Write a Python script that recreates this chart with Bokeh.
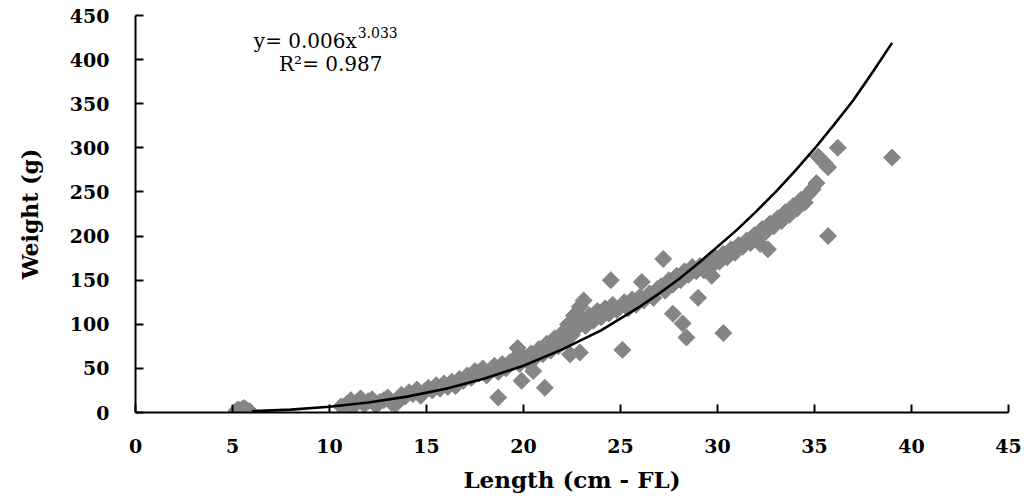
from bokeh.plotting import figure
from bokeh.models import Range1d, Label, FixedTicker
from bokeh.embed import file_html
from bokeh.resources import INLINE

# ---- data ----
length_cm = [
    5.2, 5.3, 5.4, 5.5, 5.5, 5.6, 5.7, 5.8, 5.9, 5.6,
    10.6, 10.9, 11.1, 11.2, 11.4, 11.6, 11.8, 12.0, 12.2, 12.4, 12.6, 12.8, 13.0, 13.2, 13.4, 13.5,
    13.7, 13.9, 14.1, 14.3, 14.5, 14.7, 14.9, 15.1, 15.3, 15.5, 15.7, 15.9, 16.1, 16.3, 16.5, 16.7, 16.9,
    17.1, 17.3, 17.5, 17.7, 17.9, 18.1, 18.3, 18.5, 18.7, 18.9, 19.1, 19.3,
    19.5, 19.7, 19.8, 20.0, 20.2, 20.4, 20.6, 20.8, 21.0, 21.2, 21.4,
    21.6, 21.8, 22.0, 22.2, 22.3, 22.5, 22.6, 22.7, 22.9, 23.0, 23.1, 23.2,
    23.4, 23.6, 23.8, 24.0, 24.2, 24.4, 24.6, 24.8, 25.0, 25.2, 25.4, 25.6, 25.8, 26.0, 26.2, 26.5, 26.7, 26.9,
    27.1, 27.3, 27.5, 27.7, 27.9, 28.1, 28.3, 28.5, 28.7, 28.9,
    29.1, 29.3, 29.5, 29.7, 29.9, 30.1, 30.3, 30.5, 30.7, 30.9, 31.1,
    31.3, 31.5, 31.7, 31.9, 32.1, 32.3, 32.5, 32.7, 32.9, 33.1, 33.3, 33.5, 33.7, 33.9, 34.1, 34.3, 34.5, 34.7, 34.9, 35.1,
    18.7, 19.9, 21.1, 20.5, 22.4, 22.9, 25.1, 24.5, 26.1, 27.2, 29.0, 27.7, 28.2, 28.4, 30.3, 29.7,
    35.7, 32.6, 32.2, 35.2, 35.5, 35.7, 36.2, 39.0,
]
weight_g = [
    2.0, 3.5, 1.0, 4.0, 2.5, 1.5, 3.0, 2.0, 1.2, 5.0,
    7, 10, 14, 6, 12, 16, 9, 13, 15, 8, 12, 14, 17, 11, 9, 14,
    20, 18, 23, 21, 26, 19, 24, 28, 25, 31, 27, 33, 29, 35, 30, 38, 36,
    42, 39, 47, 44, 50, 42, 48, 53, 46, 55, 50, 57,
    60, 73, 55, 63, 58, 67, 62, 72, 66, 78, 70,
    84, 75, 90, 82, 100, 88, 110, 95, 120, 105, 127, 98,
    110, 104, 115, 108, 118, 112, 122, 116, 120, 125, 118, 128, 122, 131, 127, 135, 130, 140,
    143, 138, 150, 145, 155, 150, 160, 156, 165, 160,
    166, 161, 170, 166, 175, 171, 180, 176, 185, 181, 190,
    188, 195, 192, 201, 198, 208, 205, 214, 211, 220, 217, 227, 224, 234, 231, 241, 238, 248, 253, 260,
    17, 36, 28, 47, 66, 68, 71, 150, 148, 174, 130, 112, 101, 85, 90, 155,
    200, 185, 191, 290, 283, 278, 300, 289,
]
# fitted power curve (y = 0.006x^3.033)
curve_len = [6, 8, 10, 12, 14, 16, 18, 20, 22, 24, 26, 27, 28, 29, 30, 31, 32, 33, 34, 35, 36, 37, 38, 39]
curve_wt = [1.4, 3.3, 6.5, 11.3, 18, 27, 38.5, 53, 71.5, 93, 120, 135, 151, 169, 188, 207, 228, 250, 274, 299, 326, 354, 386, 419]

x_ticks = [0, 5, 10, 15, 20, 25, 30, 35, 40, 45]
y_ticks = [0, 50, 100, 150, 200, 250, 300, 350, 400, 450]

FONT = "DejaVu Serif"

p = figure(width=1034, height=500, output_backend="svg", toolbar_location=None,
           x_range=Range1d(0, 45), y_range=Range1d(0, 450),
           min_border_left=135, min_border_right=26, min_border_top=15, min_border_bottom=88)
p.outline_line_color = None
p.xgrid.grid_line_color = None
p.ygrid.grid_line_color = None
p.background_fill_color = "white"
p.border_fill_color = "white"

p.scatter(length_cm, weight_g, marker="square", size=12, angle=0.785,
          fill_color="#858585", line_color="#858585")
p.line(curve_len, curve_wt, line_color="black", line_width=2.6)

for ax in (p.xaxis[0], p.yaxis[0]):
    ax.axis_line_color = "black"
    ax.axis_line_width = 2
    ax.major_tick_line_color = "black"
    ax.major_tick_line_width = 2
    ax.major_tick_in = 8
    ax.major_tick_out = 0
    ax.minor_tick_line_color = None
    ax.major_label_text_font = FONT
    ax.major_label_text_font_style = "bold"
    ax.major_label_text_font_size = "19px"
    ax.major_label_text_color = "black"
    ax.major_label_standoff = 26
    ax.axis_label_text_font = FONT
    ax.axis_label_text_font_style = "bold"
    ax.axis_label_text_color = "black"

p.xaxis[0].ticker = FixedTicker(ticks=x_ticks)
p.yaxis[0].ticker = FixedTicker(ticks=y_ticks)

p.yaxis[0].axis_label = "Weight (g)"
p.yaxis[0].axis_label_text_font_size = "22px"
p.yaxis[0].axis_label_standoff = 24

p.xaxis[0].axis_label = "Length (cm - FL)"
p.xaxis[0].axis_label_text_font_size = "23px"
p.xaxis[0].axis_label_standoff = 10

p.add_layout(Label(x=6.1, y=421, text="y= 0.006x", text_font=FONT,
                   text_font_size="20px", text_color="black", text_baseline="alphabetic"))
p.add_layout(Label(x=11.45, y=431, text="3.033", text_font=FONT,
                   text_font_size="14px", text_color="black", text_baseline="alphabetic"))
p.add_layout(Label(x=7.4, y=395, text="R\u00b2= 0.987", text_font=FONT,
                   text_font_size="20px", text_color="black", text_baseline="alphabetic"))

open("out.html", "w").write(file_html(p, INLINE))
